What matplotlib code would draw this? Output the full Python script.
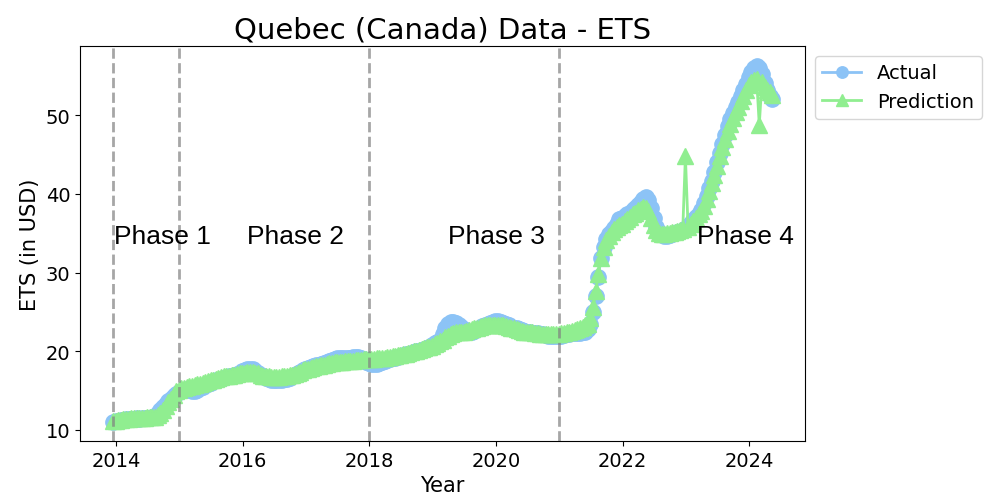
import numpy as np
import matplotlib.pyplot as plt

# valores quincenales (desde fin de 2013 hasta mayo 2024)
actual = [
    11.0, 11.1, 11.2, 11.3, 11.3, 11.4, 11.4, 11.4, 11.4, 11.5, 11.4, 11.5,
    11.5, 11.5, 11.5, 11.6, 11.8, 12.1, 12.5, 12.9, 13.3, 13.7, 14.0, 14.3,
    14.6, 14.8, 15.0, 15.1, 15.2, 15.1, 15.0, 15.0, 15.1, 15.3, 15.5, 15.7,
    15.9, 16.0, 16.2, 16.3, 16.4, 16.5, 16.6, 16.7, 16.8, 16.9, 17.0, 17.1,
    17.3, 17.5, 17.6, 17.7, 17.8, 17.7, 17.5, 17.2, 17.0, 16.8, 16.6, 16.5,
    16.4, 16.4, 16.4, 16.4, 16.4, 16.5, 16.5, 16.6, 16.8, 17.0, 17.2, 17.4,
    17.6, 17.8, 17.9, 18.0, 18.1, 18.2, 18.3, 18.4, 18.5, 18.7, 18.8, 18.9,
    19.0, 19.1, 19.1, 19.2, 19.2, 19.2, 19.2, 19.3, 19.3, 19.3, 19.2, 19.0,
    18.7, 18.5, 18.4, 18.4, 18.4, 18.5, 18.6, 18.8, 18.9, 19.0, 19.1, 19.2,
    19.3, 19.4, 19.5, 19.6, 19.7, 19.8, 19.9, 20.0, 20.1, 20.2, 20.3, 20.4,
    20.6, 20.8, 21.0, 21.2, 21.5, 22.2, 23.0, 23.5, 23.7, 23.7, 23.6, 23.4,
    23.1, 22.8, 22.6, 22.5, 22.5, 22.6, 22.8, 23.0, 23.2, 23.4, 23.5, 23.6,
    23.7, 23.8, 23.8, 23.7, 23.6, 23.5, 23.3, 23.1, 23.0, 22.9, 22.8, 22.7,
    22.6, 22.5, 22.4, 22.3, 22.3, 22.3, 22.2, 22.2, 22.1, 22.0, 22.0, 21.9,
    21.9, 21.9, 22.0, 22.1, 22.2, 22.2, 22.3, 22.3, 22.3, 22.3, 22.4, 22.5,
    22.8, 23.5, 25.0, 27.0, 29.5, 31.8, 33.3, 34.3, 34.9, 35.3, 35.7, 36.2,
    36.8, 37.0, 37.2, 37.4, 37.6, 37.9, 38.2, 38.6, 39.0, 39.4, 39.6, 39.2,
    38.2, 37.0, 35.8, 35.2, 34.9, 34.7, 34.7, 34.8, 34.9, 35.0, 35.1, 35.2,
    35.4, 35.6, 35.9, 36.3, 36.7, 37.1, 37.5, 38.0, 38.8, 39.7, 40.7, 41.7,
    42.8, 44.0, 45.2, 46.3, 47.5, 48.6, 49.5, 50.3, 51.0, 51.7, 52.4, 53.2,
    54.0, 54.8, 55.5, 56.0, 56.3, 56.0, 55.2, 54.1, 53.2, 52.5, 52.1,
]
prediccion = [
    11.2, 11.2, 11.3, 11.3, 11.4, 11.4, 11.4, 11.5, 11.5, 11.5, 11.5, 11.5,
    11.5, 11.6, 11.6, 11.6, 11.7, 11.9, 12.2, 12.6, 13.0, 13.5, 14.0, 14.5,
    14.9, 15.1, 15.3, 15.4, 15.5, 15.6, 15.6, 15.7, 15.8, 15.9, 16.0, 16.1,
    16.2, 16.3, 16.4, 16.5, 16.6, 16.7, 16.8, 16.9, 16.9, 17.0, 17.0, 17.1,
    17.2, 17.3, 17.3, 17.4, 17.4, 17.4, 17.3, 17.2, 17.0, 16.9, 16.8, 16.8,
    16.7, 16.7, 16.7, 16.7, 16.8, 16.8, 16.9, 17.0, 17.0, 17.1, 17.3, 17.4,
    17.6, 17.7, 17.8, 17.9, 18.0, 18.1, 18.1, 18.2, 18.3, 18.4, 18.5, 18.5,
    18.6, 18.6, 18.7, 18.7, 18.8, 18.8, 18.8, 18.8, 18.9, 18.9, 18.9, 19.0,
    19.0, 19.0, 19.0, 19.0, 19.1, 19.1, 19.2, 19.2, 19.3, 19.3, 19.4, 19.4,
    19.5, 19.5, 19.6, 19.7, 19.8, 19.9, 20.0, 20.1, 20.2, 20.3, 20.4, 20.5,
    20.6, 20.7, 20.9, 21.1, 21.3, 21.5, 21.8, 22.0, 22.2, 22.3, 22.4, 22.4,
    22.5, 22.5, 22.6, 22.7, 22.8, 22.9, 23.0, 23.1, 23.2, 23.3, 23.3, 23.4,
    23.4, 23.4, 23.4, 23.3, 23.3, 23.2, 23.1, 23.0, 22.9, 22.8, 22.7, 22.6,
    22.5, 22.5, 22.4, 22.4, 22.3, 22.3, 22.2, 22.2, 22.2, 22.2, 22.2, 22.2,
    22.2, 22.2, 22.3, 22.3, 22.4, 22.5, 22.6, 22.7, 22.8, 23.0, 23.1, 23.3,
    23.5, 24.2, 25.6, 27.6, 29.8, 31.8, 33.2, 34.1, 34.7, 35.1, 35.5, 35.8,
    36.0, 36.2, 36.5, 36.8, 37.1, 37.4, 37.6, 37.9, 38.1, 38.3, 38.2, 37.8,
    37.0, 36.0, 35.4, 35.0, 34.9, 34.9, 35.0, 35.0, 35.1, 35.2, 35.3, 35.4,
    35.5, 44.8, 35.8, 36.2, 36.6, 37.0, 37.4, 37.8, 38.5, 39.4, 40.4, 41.4,
    42.4, 43.6, 44.8, 45.9, 47.0, 48.0, 48.9, 49.7, 50.4, 51.1, 51.8, 52.5,
    53.2, 53.8, 54.2, 54.5, 54.6, 48.8, 54.2, 53.6, 53.2, 52.9, 52.6,
]
anios = 2013.95 + np.arange(len(actual)) / 24

fases = ['Phase 1', 'Phase 2', 'Phase 3', 'Phase 4']
fases_x = [2014.74, 2016.84, 2020.0, 2023.94]
cortes = [2013.95, 2015.0, 2018.0, 2021.0]

fig = plt.figure(figsize=(9.86, 5.02), dpi=100)
ax = fig.add_axes([0.0811, 0.1195, 0.7353, 0.7869])

ax.plot(anios, actual, label='Actual', color='#8cc3f6', marker='o',
        markersize=11, linewidth=2)
ax.plot(anios, prediccion, label='Prediction', color='#90ee90', marker='^',
        markersize=11, linewidth=2)

for c in cortes:
    ax.axvline(c, color='gray', linestyle='--', linewidth=2, alpha=0.7)
for f, fx in zip(fases, fases_x):
    ax.text(fx, 34.6, f, ha='center', va='center', fontsize=19,
            family='Liberation Sans')

ax.set_xlim(2013.43, 2024.88)
ax.set_ylim(8.6, 58.8)
ax.set_xticks([2014, 2016, 2018, 2020, 2022, 2024])
ax.tick_params(labelsize=14)
ax.set_title('Quebec (Canada) Data - ETS', fontsize=21)
ax.set_xlabel('Year', fontsize=15)
ax.set_ylabel('ETS (in USD)', fontsize=15)
ax.legend(loc='upper left', bbox_to_anchor=(1.0, 1.0), fontsize=14,
          markerscale=0.75)

plt.savefig('out.png')
